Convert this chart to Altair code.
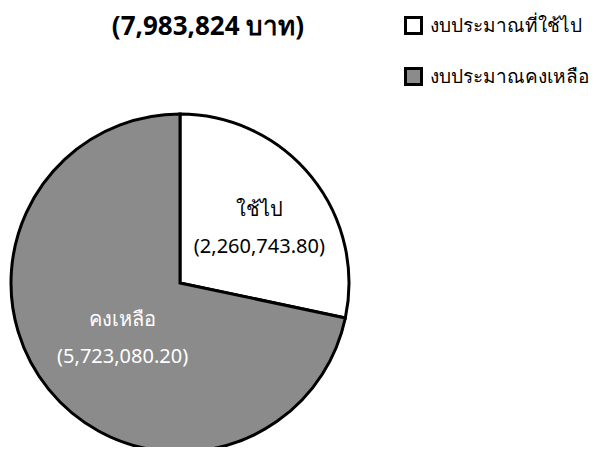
import altair as alt
import pandas as pd

categories = ["งบประมาณที่ใช้ไป", "งบประมาณคงเหลือ"]
values = [2260743.80, 5723080.20]
short_labels = ["ใช้ไป", "คงเหลือ"]
value_labels = ["(2,260,743.80)", "(5,723,080.20)"]
fills = ["#ffffff", "#8b8b8b"]
label_fill = ["#000000", "#ffffff"]
total_label = "(7,983,824 บาท)"

FONT = "Noto Sans"

df = pd.DataFrame({
    "category": categories,
    "value": values,
    "short": short_labels,
    "vlabel": value_labels,
    "lfill": label_fill,
    "order": [0, 1],
})

W, H = 592, 439
CX, CY = 172, 275

base = alt.Chart(df).encode(
    theta=alt.Theta("value:Q", stack=True),
    order=alt.Order("order:Q"),
)

pie = base.mark_arc(radius=169, stroke="black", strokeWidth=3).encode(
    x=alt.value(CX),
    y=alt.value(CY),
    color=alt.Color(
        "category:N",
        scale=alt.Scale(domain=categories, range=fills),
        sort=categories,
        legend=alt.Legend(
            title=None,
            orient="none",
            legendX=396,
            legendY=8,
            symbolType="square",
            symbolSize=256,
            symbolStrokeColor="black",
            symbolStrokeWidth=3,
            symbolOpacity=1,
            labelFontSize=19,
            labelFont=FONT,
            labelColor="black",
            labelOffset=7,
            labelLimit=300,
            rowPadding=22,
        ),
    ),
)

txt_common = dict(radius=88, fontSize=20, font=FONT, align="center", baseline="middle", dx=11)

lab1 = base.mark_text(dy=-18, **txt_common).encode(
    x=alt.value(CX),
    y=alt.value(CY),
    text="short:N",
    fill=alt.Fill("lfill:N", scale=None),
)

lab2 = base.mark_text(dy=19, **txt_common).encode(
    x=alt.value(CX),
    y=alt.value(CY),
    text="vlabel:N",
    fill=alt.Fill("lfill:N", scale=None),
)

title_df = pd.DataFrame({"t": [total_label]})
title = alt.Chart(title_df).mark_text(
    fontSize=26, fontWeight="bold", font=FONT, align="center", baseline="alphabetic"
).encode(
    x=alt.value(200),
    y=alt.value(27),
    text="t:N",
)

chart = alt.layer(pie, lab1, lab2, title).properties(
    width=W, height=H, padding=0, autosize="none"
).configure_view(stroke=None)

chart.save("out.html", embed_options={"renderer": "svg", "actions": False})
